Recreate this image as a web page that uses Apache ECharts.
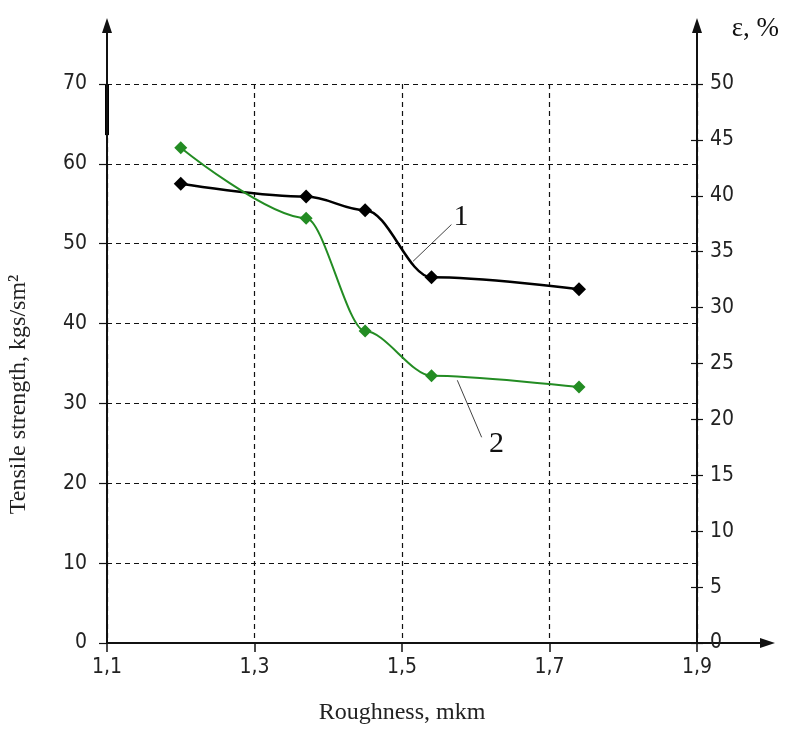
<!DOCTYPE html>
<html>
<head>
<meta charset="utf-8">
<script src="https://cdn.jsdelivr.net/npm/echarts@6/dist/echarts.min.js"></script>
<style>
  html, body { margin: 0; padding: 0; background: #fff; }
  #chart { width: 788px; height: 747px; }
</style>
</head>
<body>
<div id="chart"></div>
<script>
// values
var roughness = [1.2, 1.37, 1.45, 1.54, 1.74];
var strength = [57.5, 55.9, 54.2, 45.8, 44.3];     // curve 1, left axis
var elongation = [44.3, 38.0, 27.9, 23.9, 22.9];   // curve 2, right axis (ε, %)
var xTicks = [1.1, 1.3, 1.5, 1.7, 1.9];

var numFont = "'Liberation Sans Narrow', 'DejaVu Sans Condensed', sans-serif";
var serif = "'Liberation Serif', 'DejaVu Serif', serif";

var myChart = echarts.init(document.getElementById('chart'));

var data1 = roughness.map(function (x, i) { return [x, strength[i]]; });
var data2 = roughness.map(function (x, i) { return [x, elongation[i]]; });

myChart.setOption({
    animation: false,
    backgroundColor: '#fff',
    title: {
        text: 'ε, %',
        right: 4,
        top: 10,
        textStyle: { fontFamily: serif, fontSize: 27, fontWeight: 'normal', color: '#111' }
    },
    grid: { left: 107, right: 91, top: 84, bottom: 104, outerBoundsMode: 'none' },
    xAxis: {
        type: 'value',
        min: xTicks[0],
        max: xTicks[xTicks.length - 1],
        interval: 0.2,
        name: 'Roughness, mkm',
        nameLocation: 'middle',
        nameGap: 58,
        nameTextStyle: { fontFamily: serif, fontSize: 24, color: '#222' },
        axisLine: { lineStyle: { color: '#111', width: 2 } },
        axisTick: { length: 9, lineStyle: { color: '#111', width: 1.5 } },
        axisLabel: {
            margin: 14,
            fontFamily: numFont, fontSize: 21, color: '#222',
            formatter: function (v) { return v.toFixed(1).replace('.', ','); }
        },
        splitLine: { lineStyle: { color: '#111', type: [5, 4], width: 1.2 } }
    },
    yAxis: [{
        type: 'value',
        min: 0, max: 70, interval: 10,
        name: 'Tensile strength, kgs/sm²',
        nameLocation: 'middle',
        nameGap: 76,
        nameTextStyle: { fontFamily: serif, fontSize: 24, color: '#222', padding: [0, 62, 0, 0] },
        axisLine: { show: true, lineStyle: { color: '#111', width: 2 } },
        axisTick: { show: true, length: 8, lineStyle: { color: '#111', width: 1.2 } },
        axisLabel: { margin: 20, fontFamily: numFont, fontSize: 21, color: '#222' },
        splitLine: { lineStyle: { color: '#111', type: [5, 4], width: 1.2 } }
    }, {
        type: 'value',
        position: 'right',
        min: 0, max: 50, interval: 5,
        axisLine: { show: true, lineStyle: { color: '#111', width: 2 } },
        axisTick: { show: true, length: 6, lineStyle: { color: '#111', width: 1.2 } },
        axisLabel: { margin: 13, fontFamily: numFont, fontSize: 21, color: '#222' },
        splitLine: { show: false }
    }, {
        // inner half of the crossing ticks on the right axis
        type: 'value',
        position: 'right',
        min: 0, max: 50, interval: 5,
        axisLine: { show: false },
        axisTick: { show: true, inside: true, length: 6, lineStyle: { color: '#111', width: 1.2 } },
        axisLabel: { show: false },
        splitLine: { show: false }
    }],
    series: [{
        name: '1',
        type: 'line',
        data: data1,
        smooth: 0.35,
        smoothMonotone: 'x',
        symbol: 'diamond',
        symbolSize: 14,
        itemStyle: { color: '#000' },
        lineStyle: { color: '#000', width: 2.5 },
        markLine: {
            silent: true,
            symbol: 'none',
            lineStyle: { color: '#444', width: 1, type: 'solid' },
            label: { show: false },
            data: [[{ coord: [1.515, 47.8] }, { coord: [1.567, 52.4] }]]
        },
        markPoint: {
            silent: true,
            symbol: 'circle',
            symbolSize: 1,
            itemStyle: { color: 'transparent' },
            label: { show: true, formatter: '1', fontFamily: serif, fontSize: 30, color: '#111' },
            data: [{ coord: [1.58, 53.3] }]
        }
    }, {
        name: '2',
        type: 'line',
        yAxisIndex: 1,
        data: data2,
        smooth: 0.3,
        smoothMonotone: 'x',
        symbol: 'diamond',
        symbolSize: 13,
        itemStyle: { color: '#238c23' },
        lineStyle: { color: '#238c23', width: 2 },
        markLine: {
            silent: true,
            symbol: 'none',
            lineStyle: { color: '#444', width: 1, type: 'solid' },
            label: { show: false },
            data: [[{ coord: [1.575, 23.5] }, { coord: [1.608, 18.4] }]]
        },
        markPoint: {
            silent: true,
            symbol: 'circle',
            symbolSize: 1,
            itemStyle: { color: 'transparent' },
            label: { show: true, formatter: '2', fontFamily: serif, fontSize: 30, color: '#111' },
            data: [{ coord: [1.628, 17.8] }]
        }
    }]
});

// axis arrows and the extended axis lines above the plot
var origin = myChart.convertToPixel({ gridIndex: 0 }, [xTicks[0], 0]);
var topLeft = myChart.convertToPixel({ gridIndex: 0 }, [xTicks[0], 70]);
var barEnd = myChart.convertToPixel({ gridIndex: 0 }, [xTicks[0], 63.6]);
var right = myChart.convertToPixel({ gridIndex: 0 }, [xTicks[xTicks.length - 1], 0]);
var tipY = 18, tipX = 775;

function upArrow(x) {
    return [
        { type: 'line', shape: { x1: x, y1: topLeft[1], x2: x, y2: tipY + 10 }, style: { stroke: '#111', lineWidth: 2 } },
        { type: 'polygon', shape: { points: [[x, tipY], [x - 5, tipY + 15], [x + 5, tipY + 15]] }, style: { fill: '#111' } }
    ];
}

myChart.setOption({
    graphic: upArrow(origin[0]).concat(upArrow(right[0])).concat([
        { type: 'line', shape: { x1: right[0], y1: origin[1], x2: tipX - 10, y2: origin[1] }, style: { stroke: '#111', lineWidth: 2 } },
        { type: 'polygon', shape: { points: [[tipX, origin[1]], [tipX - 15, origin[1] - 5], [tipX - 15, origin[1] + 5]] }, style: { fill: '#111' } },
        { type: 'line', shape: { x1: origin[0], y1: topLeft[1], x2: origin[0], y2: barEnd[1] }, style: { stroke: '#000', lineWidth: 4 } }
    ])
});
</script>
</body>
</html>
